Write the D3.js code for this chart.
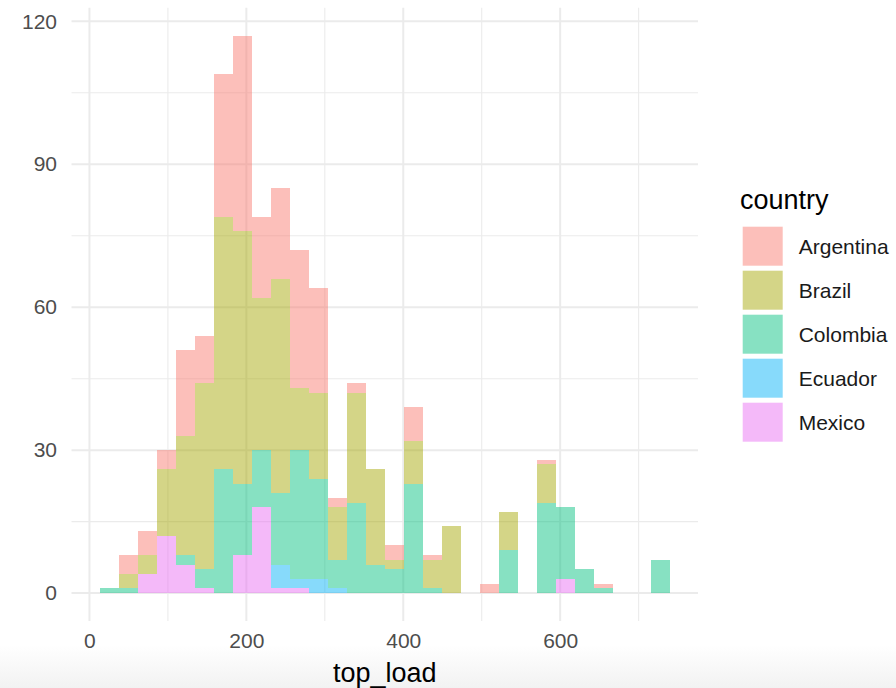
<!DOCTYPE html>
<html>
<head>
<meta charset="utf-8">
<script src="https://cdn.jsdelivr.net/npm/d3@7"></script>
<style>
  html, body { margin: 0; padding: 0; background: #ffffff; }
  #chart text { font-family: "Liberation Sans", Arial, Helvetica, sans-serif; }
</style>
</head>
<body>
<div id="chart"></div>
<script>
"use strict";

// histogram bins (top_load), 30 bins
const binStart = 13.4,
    binWidth = 24.2;

// counts per bin, one array per country
const countries = ["Argentina", "Brazil", "Colombia", "Ecuador", "Mexico"];
const argentina = [0, 4, 5, 4, 18, 10, 30, 41, 17, 19, 29, 22, 2, 2, 0, 3, 7, 1, 0, 0, 2, 0, 0, 1, 0, 0, 1, 0, 0, 0];
const brazil    = [0, 3, 4, 14, 25, 39, 53, 53, 32, 45, 13, 18, 11, 23, 20, 2, 9, 6, 14, 0, 0, 8, 0, 8, 0, 0, 0, 0, 0, 0];
const colombia  = [1, 1, 0, 0, 2, 4, 26, 15, 12, 15, 27, 21, 6, 19, 6, 5, 23, 1, 0, 0, 0, 9, 0, 19, 15, 5, 1, 0, 0, 7];
const ecuador   = [0, 0, 0, 0, 0, 0, 0, 0, 0, 5, 2, 3, 1, 0, 0, 0, 0, 0, 0, 0, 0, 0, 0, 0, 0, 0, 0, 0, 0, 0];
const mexico    = [0, 0, 4, 12, 6, 1, 0, 8, 18, 1, 1, 0, 0, 0, 0, 0, 0, 0, 0, 0, 0, 0, 0, 0, 3, 0, 0, 0, 0, 0];

const xTicks = [0, 200, 400, 600],
    xMinor = [100, 300, 500, 700],
    yTicks = [0, 30, 60, 90, 120],
    yMinor = [15, 45, 75, 105];

const svgWidth = 896,
    svgHeight = 688;

// panel area
const panel = { left: 71.5, right: 698, top: 7.7, bottom: 621 };

const series = { Argentina: argentina, Brazil: brazil, Colombia: colombia, Ecuador: ecuador, Mexico: mexico };

// build table for d3.stack
const table = argentina.map(function (_, i) {
    const row = { x0: binStart + i * binWidth, x1: binStart + (i + 1) * binWidth };
    countries.forEach(c => { row[c] = series[c][i]; });
    return row;
});

// ggplot stacks first level on top -> reverse keys
const stack = d3.stack().keys(countries.slice().reverse());
const layers = stack(table);

// scales with 5% expansion like ggplot
const xMin = d3.min(table, d => d.x0),
    xMax = d3.max(table, d => d.x1),
    xPad = (xMax - xMin) * 0.05;
const yMax = d3.max(layers[layers.length - 1], d => d[1]),
    yPad = yMax * 0.05;

const x = d3.scaleLinear()
    .domain([xMin - xPad, xMax + xPad])
    .range([panel.left, panel.right]);

const y = d3.scaleLinear()
    .domain([-yPad, yMax + yPad])
    .range([panel.bottom, panel.top]);

const color = d3.scaleOrdinal()
    .domain(countries)
    .range(["#F8766D", "#A3A500", "#00BF7D", "#00B0F6", "#E76BF3"]);

const barOpacity = 0.47;

const svg = d3.select("#chart").append("svg")
    .attr("width", svgWidth)
    .attr("height", svgHeight);

// faint screenshot shading at the bottom
const defs = svg.append("defs");
const grad = defs.append("linearGradient")
    .attr("id", "shade")
    .attr("x1", 0).attr("x2", 0).attr("y1", 0).attr("y2", 1);
grad.append("stop").attr("offset", "0%").attr("stop-color", "#ffffff");
grad.append("stop").attr("offset", "100%").attr("stop-color", "#f2f2f2");

svg.append("rect")
    .attr("x", 0).attr("y", 0)
    .attr("width", svgWidth).attr("height", svgHeight)
    .attr("fill", "#ffffff");
svg.append("rect")
    .attr("x", 0).attr("y", 645)
    .attr("width", svgWidth).attr("height", svgHeight - 645)
    .attr("fill", "url(#shade)");

// grid lines
const grid = svg.append("g").attr("class", "grid");

grid.selectAll(".minor-x")
    .data(xMinor)
    .enter().append("line")
    .attr("x1", d => x(d)).attr("x2", d => x(d))
    .attr("y1", panel.top).attr("y2", panel.bottom)
    .attr("stroke", "#EBEBEB").attr("stroke-width", 1.1);

grid.selectAll(".minor-y")
    .data(yMinor)
    .enter().append("line")
    .attr("x1", panel.left).attr("x2", panel.right)
    .attr("y1", d => y(d)).attr("y2", d => y(d))
    .attr("stroke", "#EBEBEB").attr("stroke-width", 1.1);

grid.selectAll(".major-x")
    .data(xTicks)
    .enter().append("line")
    .attr("x1", d => x(d)).attr("x2", d => x(d))
    .attr("y1", panel.top).attr("y2", panel.bottom)
    .attr("stroke", "#EBEBEB").attr("stroke-width", 2);

grid.selectAll(".major-y")
    .data(yTicks)
    .enter().append("line")
    .attr("x1", panel.left).attr("x2", panel.right)
    .attr("y1", d => y(d)).attr("y2", d => y(d))
    .attr("stroke", "#EBEBEB").attr("stroke-width", 2);

// stacked histogram bars
const bars = svg.append("g").attr("class", "bars");

bars.selectAll("g")
    .data(layers)
    .enter().append("g")
    .attr("fill", d => color(d.key))
    .attr("fill-opacity", barOpacity)
    .selectAll("rect")
    .data(d => d.filter(v => v[1] > v[0]))
    .enter().append("rect")
    .attr("x", d => x(d.data.x0))
    .attr("width", d => x(d.data.x1) - x(d.data.x0))
    .attr("y", d => y(d[1]))
    .attr("height", d => y(d[0]) - y(d[1]))
    .attr("shape-rendering", "crispEdges");

// axes (labels only, like theme_minimal)
const xAxis = svg.append("g")
    .attr("transform", "translate(0," + 633 + ")")
    .call(d3.axisBottom(x).tickValues(xTicks).tickSize(0).tickPadding(0));
xAxis.select(".domain").remove();
xAxis.selectAll("text")
    .attr("dy", "0.71em")
    .attr("fill", "#4D4D4D")
    .style("font-size", "21px");

const yAxis = svg.append("g")
    .attr("transform", "translate(" + 57 + ",0)")
    .call(d3.axisLeft(y).tickValues(yTicks).tickSize(0).tickPadding(0));
yAxis.select(".domain").remove();
yAxis.selectAll("text")
    .attr("fill", "#4D4D4D")
    .style("font-size", "21px");

// x axis title
svg.append("text")
    .attr("x", (panel.left + panel.right) / 2)
    .attr("y", 681.5)
    .attr("text-anchor", "middle")
    .attr("fill", "#000000")
    .style("font-size", "27px")
    .text("top_load");

// legend
const legend = svg.append("g").attr("class", "legend");

legend.append("text")
    .attr("x", 740)
    .attr("y", 209)
    .attr("fill", "#000000")
    .style("font-size", "27px")
    .text("country");

const keys = legend.selectAll(".key")
    .data(countries)
    .enter().append("g")
    .attr("class", "key")
    .attr("transform", (d, i) => "translate(742.7," + (226.7 + i * 44) + ")");

keys.append("rect")
    .attr("width", 40)
    .attr("height", 39)
    .attr("fill", d => color(d))
    .attr("fill-opacity", barOpacity);

keys.append("text")
    .attr("x", 56)
    .attr("y", 19.5)
    .attr("dy", "0.35em")
    .attr("fill", "#1a1a1a")
    .style("font-size", "21px")
    .text(d => d);
</script>
</body>
</html>
